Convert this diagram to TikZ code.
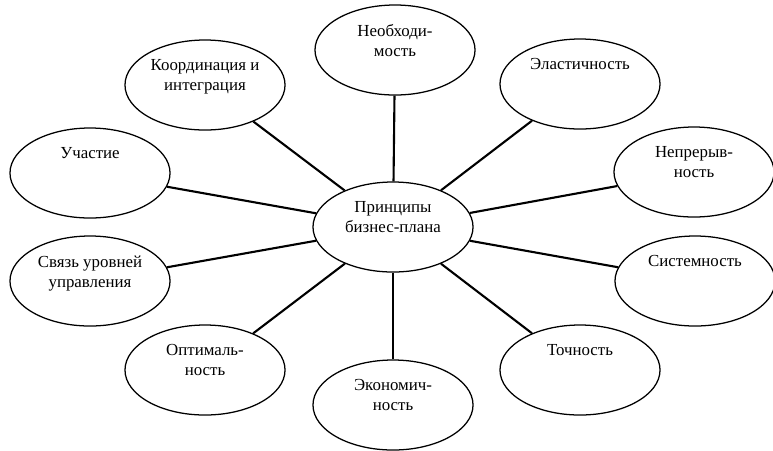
\documentclass[tikz,border=0pt]{standalone}
\usepackage{fontspec}
\setmainfont{Liberation Serif}
\usetikzlibrary{shapes.geometric}
\tikzset{
  principle/.style={draw, ellipse, line width=0.9pt, minimum width=4cm, minimum height=2.25cm,
    label={[caption, anchor=north, yshift=-11pt]north:#1}},
  caption/.style={align=center, font=\fontsize{12}{14}\selectfont},
  link/.style={line width=1.5pt}
}
\begin{document}
\begin{tikzpicture}[x=0.025cm, y=-0.025cm]
\useasboundingbox (0,0) rectangle (773,450);
\node[principle={Принципы\\бизнес-плана}] (centre) at (393,227) {};
\node[principle={Необходи-\\мость}] (need) at (395,50) {};
\node[principle={Эластичность}] (elast) at (580,84) {};
\node[principle={Непрерыв-\\ность}] (cont) at (694,172) {};
\node[principle={Системность}] (syst) at (695,281) {};
\node[principle={Точность}] (exact) at (580,370) {};
\node[principle={Экономич-\\ность}] (econ) at (393,405) {};
\node[principle={Оптималь-\\ность}] (optim) at (205,370) {};
\node[principle={Связь уровней\\управления}] (levels) at (90,281) {};
\node[principle={Участие}] (partic) at (90,173) {};
\node[principle={Координация и\\интеграция}] (coord) at (205,85) {};
% spokes
\foreach \n in {need,elast,cont,syst,exact,econ,optim,levels,partic,coord}
  \draw[link] (centre) -- (\n);
\end{tikzpicture}
\end{document}
